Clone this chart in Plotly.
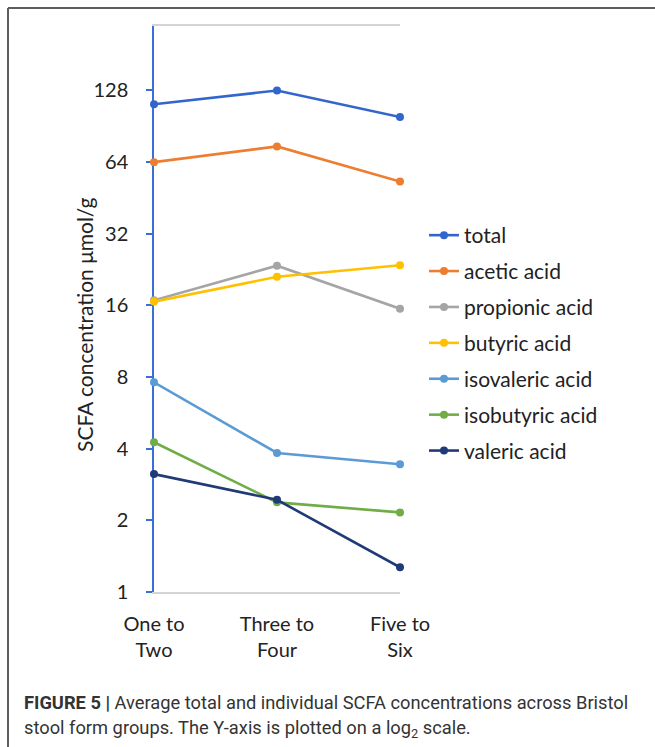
import math
import plotly.graph_objects as go

# Bristol stool form groups
groups = ["One to<br>Two", "Three to<br>Four", "Five to<br>Six"]
group_pos = [0, 1, 2]

# Mean SCFA concentrations (µmol/g)
total = [112, 128, 99]
acetic = [64, 74.5, 53]
propionic = [16.8, 23.5, 15.5]
butyric = [16.6, 21.1, 23.6]
isovaleric = [7.6, 3.84, 3.44]
isobutyric = [4.26, 2.38, 2.16]
valeric = [3.13, 2.44, 1.27]

series_names = ["total", "acetic acid", "propionic acid", "butyric acid",
                "isovaleric acid", "isobutyric acid", "valeric acid"]
series_values = [total, acetic, propionic, butyric, isovaleric, isobutyric, valeric]
series_colors = ["#3366CC", "#ED7D31", "#A5A5A5", "#FFC000",
                 "#5B9BD5", "#70AD47", "#203A78"]

y_ticks = [1, 2, 4, 8, 16, 32, 64, 128]
y_max = 2 ** 7.9

W, H = 655, 747
ML, MR, MT, MB = 154, 255, 26, 155
PW = W - ML - MR
PH = H - MT - MB

TXT = "#222222"
AXIS_BLUE = "#3A6FD8"
BORDER_GREY = "#D4D4D4"


def px_x(p):
    return (p - ML) / PW


def px_y(p):
    return (H - MB - p) / PH


fig = go.Figure()
for i, (name, vals, col) in enumerate(zip(series_names, series_values, series_colors)):
    fig.add_trace(go.Scatter(
        x=group_pos, y=vals, name=name, mode="lines+markers",
        line=dict(color=col, width=2.6),
        marker=dict(color=col, size=8),
        cliponaxis=False, legendgroup=f"g{i}",
    ))

yrange = [0, math.log10(y_max)]

fig.update_layout(
    width=W, height=H,
    margin=dict(l=ML, r=MR, t=MT, b=MB),
    paper_bgcolor="white", plot_bgcolor="white",
    font=dict(family="Lato, Open Sans, sans-serif", size=20, color=TXT),
    showlegend=True,
    legend=dict(
        x=px_x(424), xanchor="left", y=px_y(215), yanchor="top",
        font=dict(size=21, color=TXT), tracegroupgap=5.6,
        bgcolor="rgba(0,0,0,0)", itemwidth=30,
    ),
    xaxis=dict(
        range=[0, 2], tickvals=group_pos, ticktext=groups,
        showgrid=False, zeroline=False, showline=True, mirror=True,
        linecolor=BORDER_GREY, linewidth=1.5, ticks="",
        ticklabelstandoff=13, layer="below traces",
        tickfont=dict(size=20),
    ),
    yaxis=dict(
        type="log", range=yrange, tickvals=y_ticks,
        ticktext=[str(v) for v in y_ticks],
        showgrid=False, zeroline=False, showline=True,
        linecolor=AXIS_BLUE, linewidth=1.5,
        ticks="outside", ticklen=6, tickcolor=AXIS_BLUE, tickwidth=1.5,
        ticklabelstandoff=14, layer="below traces",
        tickfont=dict(size=20),
    ),
    # inner half of the crossing tick marks
    yaxis2=dict(
        type="log", range=yrange, overlaying="y", side="left",
        tickvals=y_ticks[1:] + [y_max], showticklabels=False, showgrid=False,
        zeroline=False, showline=False,
        ticks="inside", ticklen=6, tickcolor=AXIS_BLUE, tickwidth=1.5,
        layer="below traces",
    ),
    # outer tick at the top end of the axis
    yaxis4=dict(
        type="log", range=yrange, overlaying="y", side="left",
        tickvals=[y_max], showticklabels=False, showgrid=False,
        zeroline=False, showline=False,
        ticks="outside", ticklen=6, tickcolor=AXIS_BLUE, tickwidth=1.5,
        layer="below traces",
    ),
    # right-hand border of the plot area
    yaxis3=dict(
        type="log", range=yrange, overlaying="y", side="right",
        showticklabels=False, showgrid=False, zeroline=False,
        showline=True, linecolor=BORDER_GREY, linewidth=1.5, ticks="",
        layer="below traces",
    ),
)

# Y-axis title
fig.add_annotation(
    text="SCFA concentration μmol/g", textangle=-90,
    xref="paper", yref="paper", x=px_x(84), y=px_y(325),
    xanchor="center", yanchor="middle", showarrow=False,
    font=dict(size=21, color=TXT),
)

# Figure caption
cap_font = dict(family="Roboto, Liberation Sans, sans-serif", size=18.3, color="#333333")
fig.add_annotation(
    text="<b>FIGURE 5 |</b> Average total and individual SCFA concentrations across Bristol",
    xref="paper", yref="paper", x=px_x(22), y=px_y(702),
    xanchor="left", yanchor="middle", showarrow=False, font=cap_font,
)
fig.add_annotation(
    text="stool form groups. The Y-axis is plotted on a log<sub>2</sub> scale.",
    xref="paper", yref="paper", x=px_x(22), y=px_y(729),
    xanchor="left", yanchor="middle", showarrow=False, font=cap_font,
)

# Outer frame (top and left edges)
fig.add_shape(type="line", xref="paper", yref="paper",
              x0=px_x(8), x1=px_x(W + 5), y0=px_y(8), y1=px_y(8),
              line=dict(color="#5E5E5E", width=2))
fig.add_shape(type="line", xref="paper", yref="paper",
              x0=px_x(8), x1=px_x(8), y0=px_y(8), y1=px_y(H + 5),
              line=dict(color="#5E5E5E", width=2))

fig.write_html("out.html")
